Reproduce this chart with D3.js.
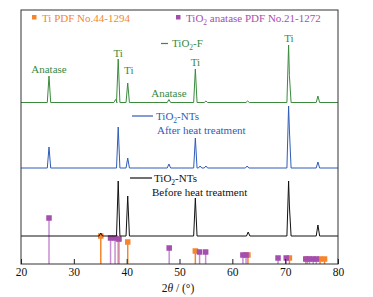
<!DOCTYPE html>
<html>
<head>
<meta charset="utf-8">
<script src="https://cdn.jsdelivr.net/npm/d3@7"></script>
<style>
  body { margin: 0; background: #fff; }
  text { font-family: "Liberation Serif", "DejaVu Serif", serif; }
</style>
</head>
<body>
<div id="chart"></div>
<script>
// XRD patterns, peaks as [2theta, height above own baseline, shoulder height]
const xTicks = [20, 30, 40, 50, 60, 70, 80];
const traceOffsets = [161.5, 96, 28];
const greenPeaks = [[25.3, 26.5], [37.9, 3], [38.4, 43.5], [40.2, 19.5], [48.0, 3], [53.0, 33.5], [55.0, 1.5], [62.9, 1.5], [70.65, 57.5, 27], [76.2, 6.5]];
const bluePeaks = [[25.3, 21], [38.4, 41], [40.2, 10], [48.0, 4], [53.0, 30], [53.9, 2], [55.0, 2], [62.8, 2], [70.65, 62, 38], [76.2, 6]];
const blackPeaks = [[35.1, 3], [38.4, 55], [40.2, 40], [53.0, 38], [63.0, 4], [70.65, 55, 30], [76.2, 11]];

// reference cards
const tiPos = [35.1, 38.4, 40.2, 53.0, 62.95, 70.8, 74.15, 76.6, 77.45];
const tiHeight = [28, 25, 22, 13, 9, 6, 5, 5, 5];
const anatasePos = [25.3, 36.95, 37.8, 38.55, 48.05, 53.8, 54.95, 62.0, 62.6, 68.65, 70.2, 73.9, 74.6, 75.3, 75.9, 80.0];
const anataseHeight = [46, 26, 26, 25, 16, 12, 12, 9, 9, 6, 6, 5, 5, 5, 5, 6];

const peakLabels = [
  { text: "Anatase", x: 25.3, y: 191 },
  { text: "Ti", x: 38.4, y: 207 },
  { text: "Ti", x: 40.4, y: 190 },
  { text: "Anatase", x: 48.0, y: 167 },
  { text: "Ti", x: 53.0, y: 198 },
  { text: "Ti", x: 70.7, y: 222 },
];

const W = 373, H = 297;
const margin = { left: 21, right: 35, top: 10, bottom: 33 };
const green = "#3b8a3e", blue = "#2f5cb8", orange = "#f5862e", purple = "#a44fae", purpleLight = "#c78fd2";

const svg = d3.select("#chart").append("svg").attr("width", W).attr("height", H);

const x = d3.scaleLinear().domain([20, 80]).range([margin.left, W - margin.right]);
const y = d3.scaleLinear().domain([0, 254]).range([H - margin.bottom, margin.top]);

svg.append("clipPath").attr("id", "clip")
  .append("rect").attr("x", margin.left).attr("y", margin.top)
  .attr("width", x(80) - x(20)).attr("height", y(0) - y(254));

const plot = svg.append("g").attr("clip-path", "url(#clip)");

function tracePoints(peaks, off) {
  let pts = [[20, off]];
  peaks.forEach((p) => {
    let w = 0.32;
    pts.push([p[0] - w, off]);
    pts.push([p[0], off + p[1]]);
    if (p[2]) {
      pts.push([p[0] + 0.15, off + p[2]]);
      pts.push([p[0] + w + 0.15, off]);
    } else pts.push([p[0] + w, off]);
  });
  pts.push([80, off]);
  return pts;
}

const line = d3.line().x((d) => x(d[0])).y((d) => y(d[1]));

// sticks
let sticks = plot.append("g");
tiPos.forEach((p, i) => {
  sticks.append("line").attr("x1", x(p)).attr("x2", x(p)).attr("y1", y(0)).attr("y2", y(tiHeight[i]))
    .attr("stroke", orange).attr("stroke-width", 1.5);
  sticks.append("rect").attr("x", x(p) - 2.75).attr("y", y(tiHeight[i]) - 2.75).attr("width", 5.5).attr("height", 5.5).attr("fill", orange);
});
anatasePos.forEach((p, i) => {
  sticks.append("line").attr("x1", x(p)).attr("x2", x(p)).attr("y1", y(0)).attr("y2", y(anataseHeight[i]))
    .attr("stroke", purpleLight).attr("stroke-width", 1.5);
  if (p < 80)
    sticks.append("rect").attr("x", x(p) - 2.75).attr("y", y(anataseHeight[i]) - 2.75).attr("width", 5.5).attr("height", 5.5).attr("fill", purple);
});

// traces
[[blackPeaks, "#111"], [bluePeaks, blue], [greenPeaks, green]].forEach((t, i) => {
  plot.append("path").datum(tracePoints(t[0], traceOffsets[2 - i]))
    .attr("d", line).attr("fill", "none").attr("stroke", t[1]).attr("stroke-width", 1);
});

// frame and axis
svg.append("rect").attr("x", margin.left).attr("y", margin.top)
  .attr("width", x(80) - x(20)).attr("height", y(0) - y(254))
  .attr("fill", "none").attr("stroke", "#333").attr("stroke-width", 1);

const xAxis = svg.append("g").attr("transform", `translate(0,${y(0)})`)
  .call(d3.axisBottom(x).tickValues(xTicks).tickSizeInner(-5).tickSizeOuter(0).tickPadding(4));
xAxis.select(".domain").remove();
xAxis.selectAll("line").attr("stroke", "#222");
xAxis.selectAll("text").attr("font-size", 11.5).attr("fill", "#111").style("font-family", "Liberation Serif");

const xt = svg.append("text").attr("x", 178).attr("y", 292).attr("text-anchor", "middle").attr("font-size", 11.5).attr("fill", "#111");
xt.append("tspan").text("2");
xt.append("tspan").attr("font-style", "italic").text("θ");
xt.append("tspan").text(" / (°)");

// legend
svg.append("rect").attr("x", 32).attr("y", 15).attr("width", 4.5).attr("height", 4.5).attr("fill", orange);
svg.append("text").attr("x", 42).attr("y", 22).attr("font-size", 11).attr("fill", orange).text("Ti PDF No.44-1294");
svg.append("rect").attr("x", 176).attr("y", 15).attr("width", 4.5).attr("height", 4.5).attr("fill", purple);
let lt = svg.append("text").attr("x", 186).attr("y", 22).attr("font-size", 11).attr("fill", purple);
lt.append("tspan").text("TiO");
lt.append("tspan").attr("font-size", 7.5).attr("dy", 3).text("2");
lt.append("tspan").attr("dy", -3).text(" anatase PDF No.21-1272");

// series labels
function seriesLabel(x1, x2, ly, tx, ty, color, second) {
  svg.append("line").attr("x1", x1).attr("x2", x2).attr("y1", ly).attr("y2", ly).attr("stroke", color).attr("stroke-width", 1.2);
  let t = svg.append("text").attr("x", tx).attr("y", ty).attr("font-size", 11).attr("fill", color);
  t.append("tspan").text("TiO");
  t.append("tspan").attr("font-size", 7.5).attr("dy", 3).text("2");
  t.append("tspan").attr("dy", -3).text(second);
}
seriesLabel(161, 168, 43.5, 172, 47, green, "-F");
seriesLabel(132, 153, 116, 156, 119.5, blue, "-NTs");
svg.append("text").attr("x", 157).attr("y", 134).attr("font-size", 11).attr("fill", blue).text("After heat treatment");
seriesLabel(130, 152, 178, 154, 182, "#111", "-NTs");
svg.append("text").attr("x", 152).attr("y", 196).attr("font-size", 11).attr("fill", "#111").text("Before heat treatment");

// peak labels
svg.append("g").selectAll("text").data(peakLabels).enter().append("text")
  .attr("x", (d) => x(d.x)).attr("y", (d) => y(d.y)).attr("text-anchor", "middle")
  .attr("font-size", 11).attr("fill", green).text((d) => d.text);
</script>
</body>
</html>
